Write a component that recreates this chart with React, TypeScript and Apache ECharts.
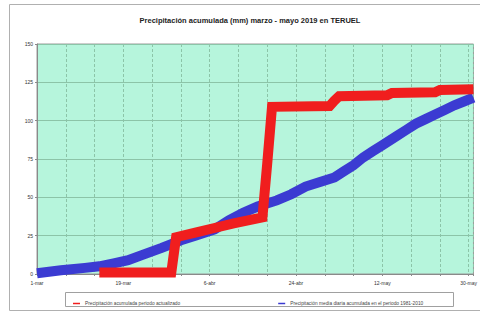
import React, { useEffect, useRef } from "react";
import * as echarts from "echarts";

const titleText = "Precipitación acumulada (mm) marzo - mayo 2019 en TERUEL";
const dateLabels = ["1-mar", "19-mar", "6-abr", "24-abr", "12-may", "30-may"];
const redName = "Precipitación acumulada periodo actualizado";
const blueName = "Precipitación media diaria acumulada en el periodo 1981-2010";

// [day since 1-mar, mm]
const redData: [number, number][] = [
  [13, 1], [28, 1], [29, 24], [33, 27], [37, 30], [41, 33], [47, 37],
  [48, 72], [49, 109], [61, 109.5], [62, 113], [63, 116], [73, 116.5],
  [74, 118], [83, 118.5], [84, 120], [91, 120.5],
];
const blueData: [number, number][] = [
  [0, 0.5], [5, 2.4], [10, 4], [13, 5], [16, 7], [19, 9], [22, 12.5],
  [26, 17], [28, 19.5], [30, 22], [33, 25], [37, 29], [40, 35], [43, 40],
  [46, 44], [50, 48], [53, 52], [56, 57], [59, 60], [62, 63], [64, 67],
  [66, 71], [68, 76], [70, 80], [72, 84], [75, 90], [77, 94], [79, 98],
  [81, 101], [83, 104], [85, 107], [87, 110], [89, 112.5], [91, 115],
];

const FONT = "'Liberation Sans', Arial, sans-serif";

export default function App() {
  const ref = useRef<HTMLDivElement>(null);
  useEffect(() => {
    const chart = echarts.init(ref.current!, undefined, { renderer: "svg" });
    chart.setOption({
      animation: false,
      backgroundColor: "#ffffff",
      textStyle: { fontFamily: FONT },
      grid: {
        left: 37, top: 44, right: 0, bottom: 39,
        show: true, backgroundColor: "#b6f5dc", borderColor: "#9a9a9a", borderWidth: 1,
      },
      xAxis: {
        type: "value", min: 0, max: 91, interval: 6,
        axisLine: { show: true, lineStyle: { color: "#8a8a8a", width: 1 } },
        axisTick: { show: true, length: 2, lineStyle: { color: "#8a8a8a" } },
        axisLabel: {
          fontSize: 5, color: "#333", margin: 6, fontFamily: FONT,
          formatter: (v: number) => (v % 18 === 0 ? dateLabels[v / 18] ?? "" : ""),
        },
        splitLine: { show: true, lineStyle: { color: "#8cc4a8", type: [3, 2], width: 1 } },
      },
      yAxis: {
        type: "value", min: 0, max: 150, interval: 25,
        axisLine: { show: true, lineStyle: { color: "#8a8a8a", width: 1 } },
        axisTick: { show: true, length: 2, lineStyle: { color: "#8a8a8a" } },
        axisLabel: { fontSize: 5, color: "#333", margin: 4, fontFamily: FONT },
        splitLine: { show: true, lineStyle: { color: "#8cc4a8", width: 1 } },
      },
      legend: {
        data: [redName, blueName],
        left: 68, top: 296,
        icon: "rect", itemWidth: 7, itemHeight: 1.5, itemGap: 98,
        textStyle: { fontSize: 4.8, color: "#444", fontFamily: FONT },
      },
      graphic: [
        {
          type: "rect", z: -10,
          shape: { x: 9.5, y: 4.5, width: 480, height: 306 },
          style: { fill: "none", stroke: "#b0b0b0", lineWidth: 1 },
        },
        {
          type: "rect",
          shape: { x: 65.5, y: 292.5, width: 388, height: 14 },
          style: { fill: "none", stroke: "#a0a0a0", lineWidth: 1 },
        },
        {
          type: "text", x: 250, y: 20,
          style: {
            text: titleText, textAlign: "center", textVerticalAlign: "middle",
            font: `bold 7.5px ${FONT}`, fill: "#222",
          },
        },
      ],
      series: [
        {
          name: blueName, type: "line", data: blueData, showSymbol: false, z: 2,
          color: "#3b3bd2",
          lineStyle: { width: 10, color: "#3b3bd2", join: "miter" },
        },
        {
          name: redName, type: "line", data: redData, showSymbol: false, z: 3,
          color: "#f01e1e",
          lineStyle: { width: 10, color: "#f01e1e", join: "miter" },
        },
      ],
    });
    return () => chart.dispose();
  }, []);
  return (
    <div
      ref={ref}
      style={{ position: "fixed", left: 0, top: 0, width: 480, height: 313 }}
    />
  );
}
